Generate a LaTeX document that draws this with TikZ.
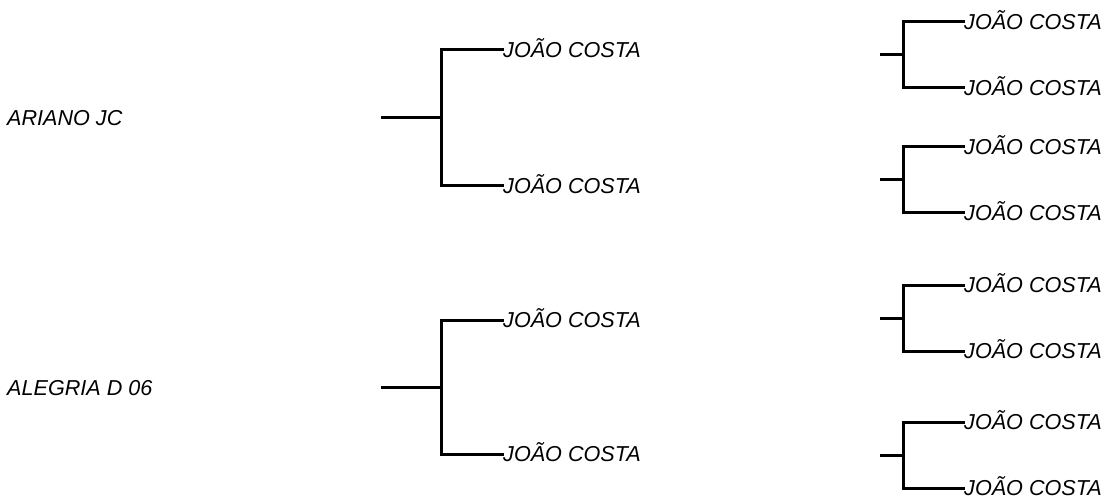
\documentclass[tikz,border=0pt]{standalone}
\usepackage{fontspec}
\setmainfont{Liberation Sans}
\begin{document}
\begin{tikzpicture}[x=1pt,y=-1pt,
  wire/.style={line width=3pt,line cap=rect},
  lbl/.style={anchor=base west,inner sep=0pt,font=\fontsize{21.6}{26}\selectfont\itshape}]
\useasboundingbox (0,0) rectangle (1108,497);
% root labels
\node[lbl] (r1) at (7,125.5) {ARIANO JC};
\node[lbl] (r2) at (7,395) {ALEGRIA D 06};
% middle brackets: stub start x=382, junction x=441, ends x=502
\foreach \i/\y/\h in {1/118/68, 2/387/67}{
  \coordinate (ms\i) at (382,\y);
  \coordinate (mj\i) at (441,\y);
  \coordinate (mta\i) at (502,\y-\h);
  \coordinate (mba\i) at (502,\y+\h);
  \node[lbl] (mt\i) at (503,\y-\h+7.8) {JOÃO COSTA};
  \node[lbl] (mb\i) at (503,\y+\h+7.8) {JOÃO COSTA};
  \draw[wire] (ms\i) -- (mj\i);
  \draw[wire] (mta\i) -| (mj\i) |- (mba\i);
}
% right brackets: stub start x=881, junction x=903, ends x=963
\foreach \i/\y in {1/55, 2/180, 3/318, 4/455}{
  \coordinate (rs\i) at (881,\y);
  \coordinate (rj\i) at (903,\y);
  \coordinate (rta\i) at (963,\y-33);
  \coordinate (rba\i) at (963,\y+33);
  \node[lbl] (rt\i) at (964,\y-33+7.8) {JOÃO COSTA};
  \node[lbl] (rb\i) at (964,\y+33+7.8) {JOÃO COSTA};
  \draw[wire] (rs\i) -- (rj\i);
  \draw[wire] (rta\i) -| (rj\i) |- (rba\i);
}
\end{tikzpicture}
\end{document}
